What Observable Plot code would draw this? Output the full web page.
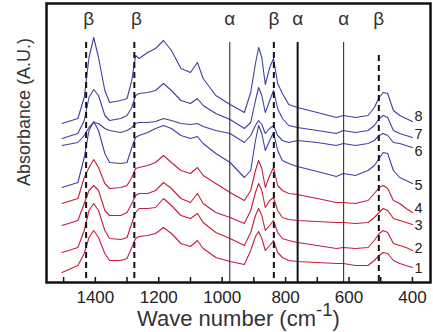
<!DOCTYPE html>
<html><head><meta charset="utf-8">
<script src="https://cdn.jsdelivr.net/npm/d3@7"></script>
<script src="https://cdn.jsdelivr.net/npm/@observablehq/plot@0.6"></script>
<style>body{margin:0;background:#fff}</style>
</head><body><div id="chart"></div>
<script>
// Wave numbers (cm-1) at which the spectra were read
const wavenumbers = [
  1505, 1455, 1435, 1420, 1405, 1390, 1370, 1355,
  1320, 1300, 1285, 1273, 1262,
  1235, 1210, 1185, 1160, 1130, 1100, 1078, 1060, 1020, 975,
  930, 910, 895, 885, 875, 864, 850, 838, 825, 810, 790, 763,
  700, 640, 618, 580, 540, 520, 505, 492, 478, 460, 440, 420, 400
];
// Absorbance (A.U., offset spectra)
const trace1 = [
  0.10, 0.17, 0.29, 0.45, 0.52, 0.45, 0.29, 0.22,
  0.22, 0.24, 0.35, 0.44, 0.46,
  0.47, 0.49, 0.55, 0.49, 0.39, 0.36, 0.42, 0.34, 0.25, 0.21,
  0.18, 0.32, 0.46, 0.51, 0.44, 0.32, 0.37, 0.42, 0.30, 0.25, 0.22, 0.21,
  0.20, 0.19, 0.19, 0.17, 0.17, 0.22, 0.27, 0.30, 0.29, 0.22, 0.19, 0.17, 0.15
];
const trace2 = [
  0.30, 0.35, 0.52, 0.72, 0.79, 0.72, 0.52, 0.44,
  0.43, 0.45, 0.59, 0.70, 0.74,
  0.74, 0.75, 0.84, 0.77, 0.67, 0.64, 0.69, 0.60, 0.50, 0.44,
  0.37, 0.50, 0.67, 0.74, 0.67, 0.52, 0.57, 0.62, 0.50, 0.44, 0.42, 0.40,
  0.37, 0.34, 0.35, 0.34, 0.35, 0.42, 0.49, 0.52, 0.50, 0.39, 0.37, 0.35, 0.32
];
const trace3 = [
  0.57, 0.62, 0.79, 0.92, 0.97, 0.92, 0.72, 0.67,
  0.67, 0.70, 0.79, 0.87, 0.89,
  0.89, 0.92, 1.00, 0.94, 0.84, 0.80, 0.89, 0.79, 0.70, 0.65,
  0.59, 0.72, 0.90, 0.99, 0.92, 0.75, 0.82, 0.85, 0.72, 0.65, 0.63, 0.62,
  0.61, 0.60, 0.60, 0.59, 0.60, 0.65, 0.70, 0.74, 0.72, 0.64, 0.62, 0.60, 0.58
];
const trace4 = [
  0.79, 0.84, 1.05, 1.15, 1.23, 1.15, 0.99, 0.94,
  0.95, 0.97, 1.05, 1.14, 1.15,
  1.17, 1.20, 1.27, 1.20, 1.12, 1.09, 1.15, 1.07, 0.99, 0.90,
  0.82, 0.92, 1.12, 1.22, 1.14, 0.95, 1.07, 1.15, 0.97, 0.92, 0.89, 0.88,
  0.84, 0.80, 0.80, 0.79, 0.82, 0.89, 0.95, 0.97, 0.94, 0.82, 0.79, 0.74, 0.70
];
const trace5 = [
  0.95, 1.00, 1.25, 1.52, 1.61, 1.52, 1.29, 1.20,
  1.19, 1.20, 1.35, 1.45, 1.47,
  1.50, 1.54, 1.57, 1.54, 1.47, 1.44, 1.46, 1.39, 1.29, 1.20,
  1.05, 1.12, 1.42, 1.57, 1.49, 1.32, 1.42, 1.50, 1.32, 1.22, 1.19, 1.16,
  1.11, 1.06, 1.09, 1.07, 1.12, 1.17, 1.24, 1.30, 1.29, 1.12, 1.05, 1.02, 0.99
];
const trace6 = [
  1.37, 1.40, 1.47, 1.55, 1.60, 1.59, 1.54, 1.52,
  1.50, 1.52, 1.55, 1.59, 1.60,
  1.60, 1.61, 1.64, 1.62, 1.59, 1.58, 1.59, 1.56, 1.52, 1.49,
  1.40, 1.47, 1.57, 1.62, 1.58, 1.49, 1.54, 1.57, 1.47, 1.42, 1.40, 1.42,
  1.40, 1.37, 1.39, 1.37, 1.39, 1.42, 1.47, 1.49, 1.47, 1.40, 1.39, 1.37, 1.35
];
const trace7 = [
  1.44, 1.49, 1.62, 1.85, 1.93, 1.87, 1.67, 1.62,
  1.64, 1.67, 1.75, 1.87, 1.89,
  1.90, 1.92, 1.99, 1.92, 1.82, 1.79, 1.84, 1.77, 1.69, 1.63,
  1.54, 1.60, 1.82, 1.95, 1.87, 1.70, 1.82, 1.92, 1.74, 1.64, 1.57, 1.55,
  1.52, 1.49, 1.52, 1.50, 1.52, 1.57, 1.64, 1.67, 1.65, 1.52, 1.49, 1.47, 1.45
];
const trace8 = [
  1.59, 1.64, 1.85, 2.25, 2.45, 2.25, 1.92, 1.80,
  1.82, 1.84, 2.02, 2.27, 2.24,
  2.30, 2.34, 2.42, 2.32, 2.14, 2.10, 2.20, 2.04, 1.87, 1.78,
  1.70, 1.90, 2.19, 2.35, 2.25, 1.98, 2.15, 2.24, 1.99, 1.89, 1.78, 1.75,
  1.70, 1.65, 1.67, 1.65, 1.67, 1.75, 1.85, 1.90, 1.89, 1.72, 1.67, 1.64, 1.61
];
const traceNames = ["1", "2", "3", "4", "5", "6", "7", "8"];
const traceGroups = ["red", "red", "red", "red", "blue", "blue", "blue", "blue"];
// levels (A.U.) at which the trace numbers sit at the right end
const traceLabelLevels = [0.14, 0.34, 0.57, 0.74, 0.97, 1.31, 1.48, 1.66];
const traces = [trace1, trace2, trace3, trace4, trace5, trace6, trace7, trace8];

const xTicks = [1500, 1400, 1300, 1200, 1100, 1000, 900, 800, 700, 600, 500, 400];
const xTickLabels = [1400, 1200, 1000, 800, 600, 400];
const betaLines = [1429, 1277, 837];
const betaLineLow = [506];
const alphaThin = [976, 617];
const alphaThick = [762];
const bandLabelW = [1421, 1270, 976, 837, 762, 617, 506];
const bandLabelText = ["β", "β", "α", "β", "α", "α", "β"];

const rows = [];
traces.forEach((t, i) => t.forEach((a, j) => rows.push({w: wavenumbers[j], a, trace: traceNames[i], group: traceGroups[i]})));
const ends = traceNames.map((name, i) => ({w: wavenumbers[wavenumbers.length - 1], a: traceLabelLevels[i], name}));

const FONT = "'Liberation Sans', Arial, sans-serif";
const colorOf = {red: "#c41e3a", blue: "#3f3fa0"};

const chart = Plot.plot({
  width: 433, height: 332,
  marginTop: 3, marginRight: 3, marginBottom: 50, marginLeft: 46,
  style: {fontFamily: FONT, background: "white"},
  x: {domain: [1554, 343], label: null},
  y: {domain: [0, 2.79], axis: null},
  marks: [
    Plot.line(rows, {x: "w", y: "a", z: "trace", stroke: d => colorOf[d.group], strokeWidth: 1.1}),
    Plot.ruleX(betaLines, {x: d => d, insetTop: 39, stroke: "#111", strokeWidth: 2, strokeDasharray: "6,4"}),
    Plot.ruleX(betaLineLow, {x: d => d, insetTop: 52, stroke: "#111", strokeWidth: 2, strokeDasharray: "6,4"}),
    Plot.ruleX(alphaThin, {x: d => d, insetTop: 39, stroke: "#333", strokeWidth: 1.1}),
    Plot.ruleX(alphaThick, {x: d => d, insetTop: 39, stroke: "#111", strokeWidth: 2}),
    Plot.tickX(xTicks, {x: d => d, insetTop: 274, stroke: "#111", strokeWidth: 1.5}),
    Plot.frame({stroke: "#111", strokeWidth: 2.5}),
    Plot.axisX(xTickLabels, {tickSize: 0, tickPadding: 8, fontSize: 17, fill: "#222", tickFormat: d => String(d), label: null}),
    Plot.text(bandLabelW, {x: d => d, text: (d, i) => bandLabelText[i], frameAnchor: "top", lineAnchor: "middle", dy: 15, fontSize: 19, fill: "#333"}),
    Plot.text(ends, {x: "w", y: "a", text: "name", dx: 2, textAnchor: "start", fontSize: 14.5, fill: "#222"}),
    Plot.text(["Wave number (cm-1)"], {text: d => d, frameAnchor: "bottom", lineAnchor: "middle", dy: 36, fontSize: 22, fill: "#333"}),
    Plot.text(["Absorbance (A.U.)"], {text: d => d, frameAnchor: "left", textAnchor: "middle", lineAnchor: "middle", rotate: -90, dx: -22, dy: -31, fontSize: 18, fill: "#333"})
  ]
});

d3.select(chart).selectAll("text").filter(function () { return this.textContent === "Wave number (cm-1)"; }).each(function () {
  const t = d3.select(this);
  t.text(null);
  t.append("tspan").text("Wave number (cm");
  t.append("tspan").attr("dy", "-0.5em").attr("font-size", "0.85em").text("-1");
  t.append("tspan").attr("dy", "0.425em").text(")");
});

document.getElementById("chart").appendChild(chart);
</script>
</body></html>
